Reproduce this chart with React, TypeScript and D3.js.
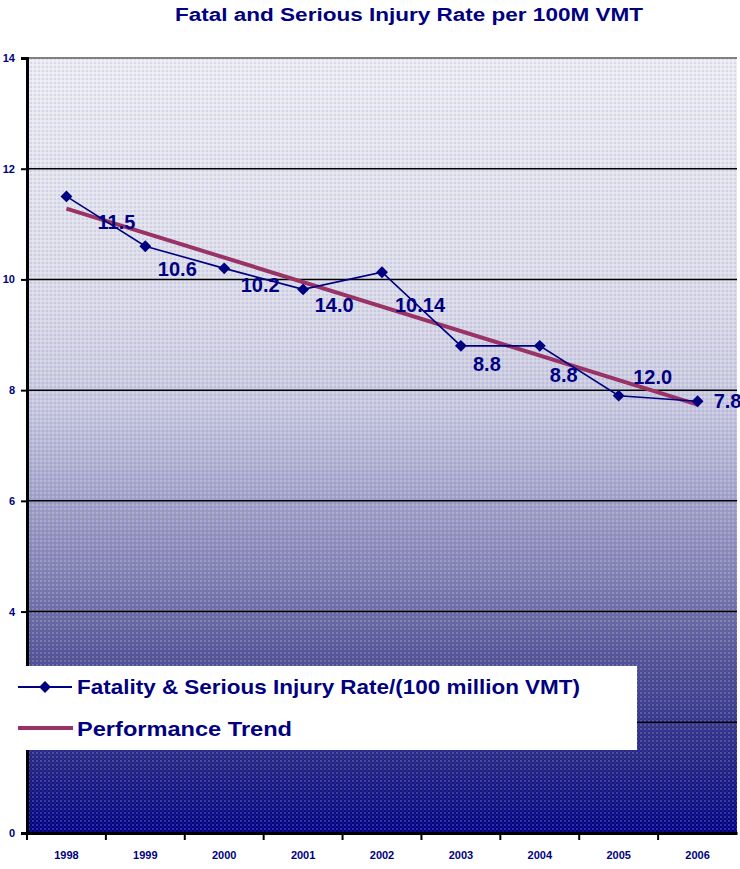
import React, { useEffect, useRef } from "react";
import * as d3 from "d3";

// values
const years = ["1998", "1999", "2000", "2001", "2002", "2003", "2004", "2005", "2006"];
const rates = [11.5, 10.6, 10.2, 9.82, 10.13, 8.8, 8.8, 7.9, 7.8];
const pointLabels = ["11.5", "10.6", "10.2", "14.0", "10.14", "8.8", "8.8", "12.0", "7.8"];
const trendEnds = [11.28, 7.74];
const yTicks = [0, 2, 4, 6, 8, 10, 12, 14];
const gridValues = [2, 4, 6, 8, 10, 12];

// label placement relative to each point (dx, dy of text centre)
const labelOffsets = [
  [50, 26], [32, 23], [36, 17], [31, 16], [38, 33], [26, 18], [24, 29], [34, -19], [30, 0],
];

const width = 740;
const height = 869;
const margin = { top: 58, right: 3, bottom: 36, left: 27 };
const navy = "#000080";
const maroon = "#993366";
const font = "'Liberation Sans', Arial, sans-serif";

export default function App() {
  const ref = useRef<SVGSVGElement>(null);

  useEffect(() => {
    const svg = d3.select(ref.current);
    svg.selectAll("*").remove();

    const x = d3
      .scaleBand()
      .domain(years)
      .range([margin.left, width - margin.right])
      .padding(0);
    const y = d3
      .scaleLinear()
      .domain([0, 14])
      .range([height - margin.bottom, margin.top]);
    const cx = (yr: string) => (x(yr) as number) + x.bandwidth() / 2;

    const defs = svg.append("defs");
    const grad = defs
      .append("linearGradient")
      .attr("id", "bg")
      .attr("x1", 0)
      .attr("y1", 0)
      .attr("x2", 0)
      .attr("y2", 1);
    [
      [0, "#ececf2"],
      [0.3, "#dcdce8"],
      [0.45, "#c8c8de"],
      [0.55, "#a8a8cc"],
      [0.66, "#8484b4"],
      [0.78, "#505094"],
      [0.9, "#262684"],
      [1, "#000082"],
    ].forEach(([o, c]) => grad.append("stop").attr("offset", o).attr("stop-color", c));

    const pat = defs
      .append("pattern")
      .attr("id", "dots")
      .attr("width", 4)
      .attr("height", 4)
      .attr("patternUnits", "userSpaceOnUse");
    pat.append("rect").attr("width", 2).attr("height", 2).attr("fill", "#fff").attr("opacity", 0.18);
    pat.append("rect").attr("x", 2).attr("y", 2).attr("width", 2).attr("height", 2).attr("fill", "#6666cc").attr("opacity", 0.15);

    // plot background
    svg
      .append("rect")
      .attr("x", margin.left)
      .attr("y", margin.top)
      .attr("width", width - margin.left - margin.right)
      .attr("height", y(0) - y(14))
      .attr("fill", "url(#bg)");
    svg
      .append("rect")
      .attr("x", margin.left)
      .attr("y", margin.top)
      .attr("width", width - margin.left - margin.right)
      .attr("height", y(0) - y(14))
      .attr("fill", "url(#dots)");

    // gridlines
    svg
      .append("g")
      .selectAll("line")
      .data(gridValues)
      .join("line")
      .attr("x1", margin.left)
      .attr("x2", width - margin.right)
      .attr("y1", (d) => y(d))
      .attr("y2", (d) => y(d))
      .attr("stroke", "#000")
      .attr("stroke-width", 1.5);
    svg
      .append("line")
      .attr("x1", margin.left)
      .attr("x2", width - margin.right)
      .attr("y1", y(14))
      .attr("y2", y(14))
      .attr("stroke", "#808080")
      .attr("stroke-width", 2);

    // title
    svg
      .append("text")
      .attr("x", 409)
      .attr("y", 21)
      .attr("text-anchor", "middle")
      .attr("font-family", font)
      .attr("font-weight", "bold")
      .attr("font-size", 18)
      .attr("fill", navy)
      .attr("textLength", 468)
      .attr("lengthAdjust", "spacingAndGlyphs")
      .text("Fatal and Serious Injury Rate per 100M VMT");

    // axes
    const yAxis = svg
      .append("g")
      .attr("transform", `translate(${margin.left},0)`)
      .call(d3.axisLeft(y).tickValues(yTicks).tickSize(6).tickPadding(6).tickFormat(d3.format("d")));
    yAxis.select(".domain").attr("stroke", "#000").attr("stroke-width", 3);
    yAxis.selectAll(".tick line").attr("stroke", "#000").attr("stroke-width", 2);
    yAxis
      .selectAll(".tick text")
      .attr("fill", navy)
      .attr("font-family", font)
      .attr("font-weight", "bold")
      .attr("font-size", 11);

    const xAxis = svg
      .append("g")
      .attr("transform", `translate(0,${y(0)})`)
      .call(d3.axisBottom(x).tickSize(0).tickPadding(18));
    xAxis.select(".domain").attr("stroke", "#000").attr("stroke-width", 3);
    xAxis
      .selectAll(".tick text")
      .attr("fill", navy)
      .attr("font-family", font)
      .attr("font-weight", "bold")
      .attr("font-size", 11);
    xAxis
      .append("g")
      .selectAll("line")
      .data(years)
      .join("line")
      .attr("x1", (d) => x(d) as number)
      .attr("x2", (d) => x(d) as number)
      .attr("y1", 0)
      .attr("y2", 7)
      .attr("stroke", "#000")
      .attr("stroke-width", 2);

    // trend line
    svg
      .append("line")
      .attr("x1", cx(years[0]))
      .attr("x2", cx(years[years.length - 1]))
      .attr("y1", y(trendEnds[0]))
      .attr("y2", y(trendEnds[1]))
      .attr("stroke", maroon)
      .attr("stroke-width", 4);

    // rate series
    const line = d3
      .line<number>()
      .x((_, i) => cx(years[i]))
      .y((d) => y(d));
    svg
      .append("path")
      .attr("d", line(rates))
      .attr("fill", "none")
      .attr("stroke", navy)
      .attr("stroke-width", 1.6);
    const diamond = d3.symbol().type(d3.symbolDiamond2).size(90);
    svg
      .append("g")
      .selectAll("path")
      .data(rates)
      .join("path")
      .attr("d", diamond)
      .attr("transform", (d, i) => `translate(${cx(years[i])},${y(d)})`)
      .attr("fill", navy);

    svg
      .append("g")
      .selectAll("text")
      .data(rates)
      .join("text")
      .attr("x", (d, i) => cx(years[i]) + labelOffsets[i][0])
      .attr("y", (d, i) => y(d) + labelOffsets[i][1])
      .attr("dy", "0.35em")
      .attr("text-anchor", "middle")
      .attr("font-family", font)
      .attr("font-weight", "bold")
      .attr("font-size", 20)
      .attr("fill", navy)
      .text((d, i) => pointLabels[i]);

    // legend
    const legend = svg.append("g");
    legend.append("rect").attr("x", 0).attr("y", 666).attr("width", 637).attr("height", 84).attr("fill", "#fff");
    legend.append("line").attr("x1", 18).attr("x2", 72).attr("y1", 687).attr("y2", 687).attr("stroke", navy).attr("stroke-width", 2);
    legend.append("path").attr("d", diamond).attr("transform", "translate(45,687)").attr("fill", navy);
    legend.append("line").attr("x1", 18).attr("x2", 73).attr("y1", 728).attr("y2", 728).attr("stroke", maroon).attr("stroke-width", 4);
    legend
      .append("text")
      .attr("x", 77)
      .attr("y", 694)
      .attr("font-family", font)
      .attr("font-weight", "bold")
      .attr("font-size", 21)
      .attr("fill", navy)
      .attr("textLength", 503)
      .attr("lengthAdjust", "spacingAndGlyphs")
      .text("Fatality & Serious Injury Rate/(100 million VMT)");
    legend
      .append("text")
      .attr("x", 77)
      .attr("y", 736)
      .attr("font-family", font)
      .attr("font-weight", "bold")
      .attr("font-size", 21)
      .attr("fill", navy)
      .attr("textLength", 215)
      .attr("lengthAdjust", "spacingAndGlyphs")
      .text("Performance Trend");
  }, []);

  return (
    <svg
      ref={ref}
      width={width}
      height={height}
      style={{ position: "absolute", left: 0, top: 0, background: "#fff" }}
    />
  );
}
